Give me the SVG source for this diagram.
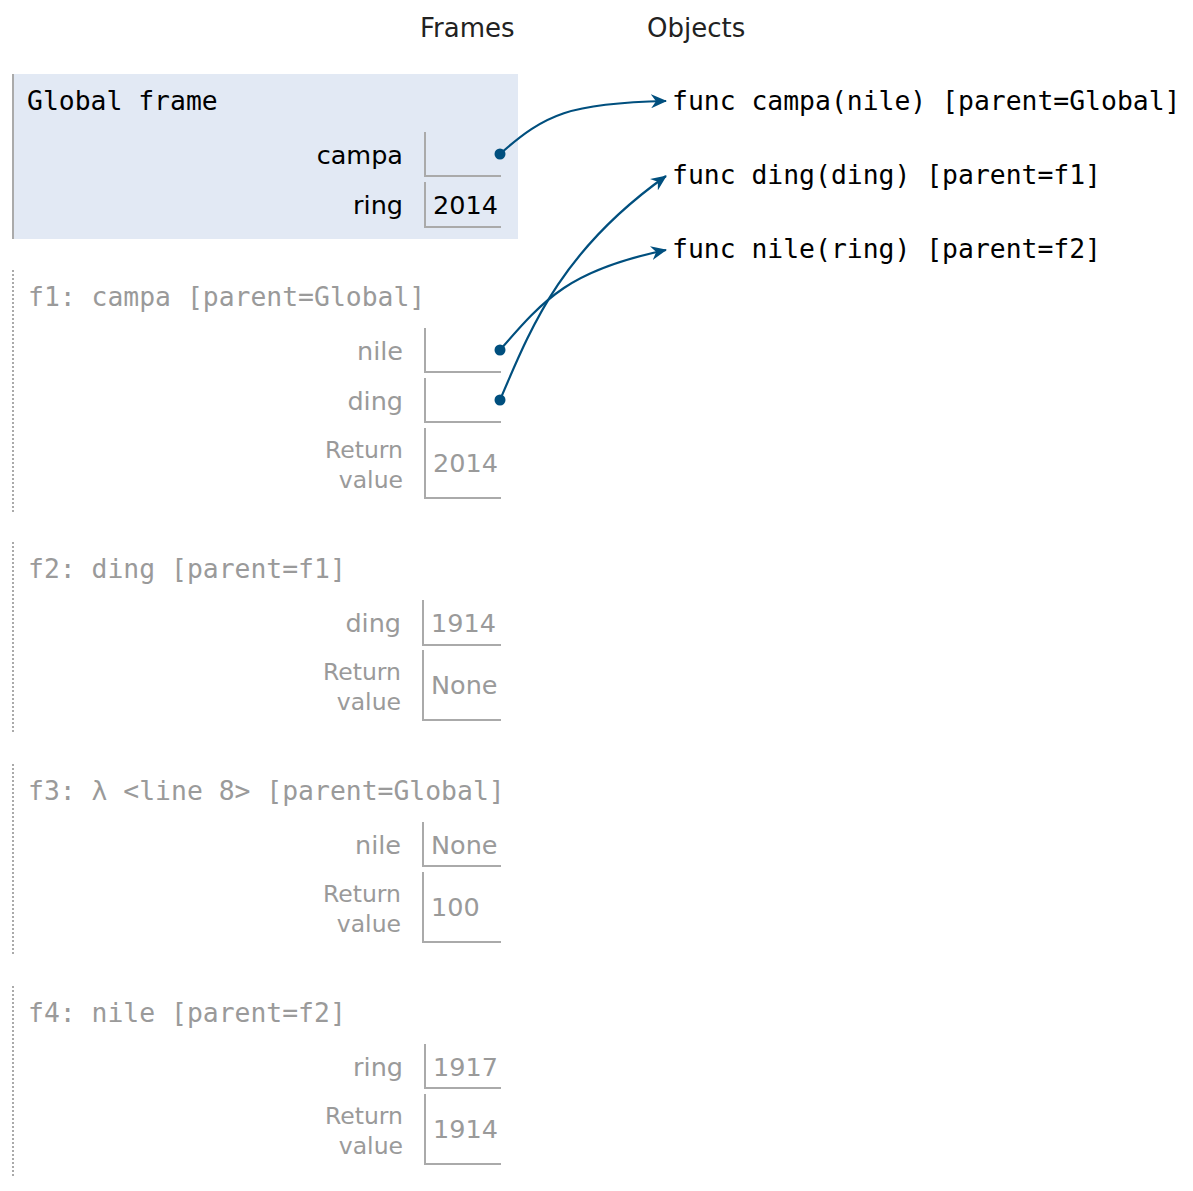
<svg xmlns="http://www.w3.org/2000/svg" width="1193" height="1191" viewBox="0 0 1193 1191">
<style>
.hdr{font-family:"DejaVu Sans",Verdana,sans-serif;font-size:26px;fill:#222}
.mono{font-family:"DejaVu Sans Mono","Liberation Mono",monospace;font-size:26.4px}
.ttl{fill:#000}
.ttlg{fill:#9a9a9a}
.var{font-family:"DejaVu Sans",Verdana,sans-serif;font-size:25.5px;text-anchor:end}
.ret{font-family:"DejaVu Sans",Verdana,sans-serif;font-size:23.5px;text-anchor:end}
.val{font-family:"DejaVu Sans",Verdana,sans-serif;font-size:25.5px}
.blk{fill:#000}
.gry{fill:#9a9a9a}
.box{fill:none;stroke:#aaaaaa;stroke-width:2}
.dot{fill:#004f7e}
.conn{fill:none;stroke:#004f7e;stroke-width:2.2}
.dotted{stroke:#aaaaaa;stroke-width:2;stroke-dasharray:2,2}
</style>
<defs>
<marker id="ah" viewBox="0 0 16 14" refX="15" refY="7" markerWidth="16" markerHeight="14" markerUnits="userSpaceOnUse" orient="auto">
<path d="M0,0 L16,7 L0,14 L5,7 z" fill="#004f7e"/>
</marker>
</defs>
<text class="hdr" x="420" y="37">Frames</text>
<text class="hdr" x="647" y="37">Objects</text>

<g id="global">
<rect x="12" y="74" width="506" height="165" fill="#e2e9f4"/>
<line x1="13" y1="74" x2="13" y2="239" stroke="#aaaaaa" stroke-width="2"/>
<text class="mono ttl" x="27" y="110">Global frame</text>
<text class="var blk" x="403" y="164">campa</text>
<path class="box" d="M425,132 V176 H501"/>
<text class="var blk" x="403" y="214">ring</text>
<path class="box" d="M425,182 V227 H501"/>
<text class="val blk" x="433" y="214">2014</text>
</g>

<g id="f1">
<line class="dotted" x1="13" y1="270" x2="13" y2="512"/>
<text class="mono ttlg" x="28" y="306">f1: campa [parent=Global]</text>
<text class="var gry" x="403" y="360">nile</text>
<path class="box" d="M425,328 V372 H501"/>
<text class="var gry" x="403" y="410">ding</text>
<path class="box" d="M425,378 V422 H501"/>
<text class="ret gry" x="403" y="458">Return</text>
<text class="ret gry" x="403" y="488">value</text>
<path class="box" d="M425,428 V498 H501"/>
<text class="val gry" x="433" y="472">2014</text>
</g>

<g id="f2">
<line class="dotted" x1="13" y1="542" x2="13" y2="733"/>
<text class="mono ttlg" x="28" y="578">f2: ding [parent=f1]</text>
<text class="var gry" x="401" y="632">ding</text>
<path class="box" d="M423,600 V645 H501"/>
<text class="val gry" x="431" y="632">1914</text>
<text class="ret gry" x="401" y="680">Return</text>
<text class="ret gry" x="401" y="710">value</text>
<path class="box" d="M423,650 V720 H501"/>
<text class="val gry" x="431" y="694">None</text>
</g>

<g id="f3">
<line class="dotted" x1="13" y1="764" x2="13" y2="955"/>
<text class="mono ttlg" x="28" y="800">f3: λ &lt;line 8&gt; [parent=Global]</text>
<text class="var gry" x="401" y="854">nile</text>
<path class="box" d="M423,822 V866 H501"/>
<text class="val gry" x="431" y="854">None</text>
<text class="ret gry" x="401" y="902">Return</text>
<text class="ret gry" x="401" y="932">value</text>
<path class="box" d="M423,872 V942 H501"/>
<text class="val gry" x="431" y="916">100</text>
</g>

<g id="f4">
<line class="dotted" x1="13" y1="986" x2="13" y2="1177"/>
<text class="mono ttlg" x="28" y="1022">f4: nile [parent=f2]</text>
<text class="var gry" x="403" y="1076">ring</text>
<path class="box" d="M425,1044 V1088 H501"/>
<text class="val gry" x="433" y="1076">1917</text>
<text class="ret gry" x="403" y="1124">Return</text>
<text class="ret gry" x="403" y="1154">value</text>
<path class="box" d="M425,1094 V1164 H501"/>
<text class="val gry" x="433" y="1138">1914</text>
</g>

<g id="obj_campa"><text class="mono blk" x="672" y="110">func campa(nile) [parent=Global]</text></g>
<g id="obj_ding"><text class="mono blk" x="672" y="184">func ding(ding) [parent=f1]</text></g>
<g id="obj_nile"><text class="mono blk" x="672" y="258">func nile(ring) [parent=f2]</text></g>

<g id="connectors">
<circle class="dot" cx="500" cy="154" r="5.5"/>
<path class="conn" d="M500,154 C545,114 570,103 666,101" marker-end="url(#ah)"/>
<circle class="dot" cx="500" cy="350" r="5.5"/>
<path class="conn" d="M500,350 C545,298 570,270 666,250" marker-end="url(#ah)"/>
<circle class="dot" cx="500" cy="400" r="5.5"/>
<path class="conn" d="M500,400 C532,325 562,250 666,176" marker-end="url(#ah)"/>
</g>
</svg>
